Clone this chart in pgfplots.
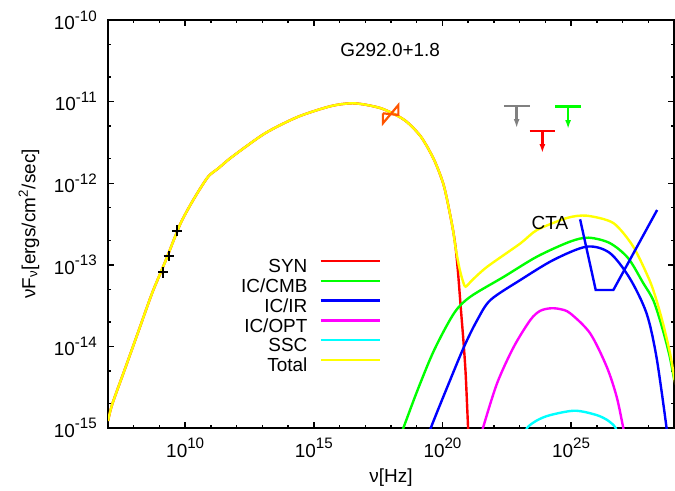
\documentclass[border=0pt]{standalone}
\usepackage{fontspec}
\setmainfont{Liberation Sans}
\usepackage{pgfplots}
\pgfplotsset{compat=1.18}
\usetikzlibrary{arrows.meta}
\definecolor{ulgray}{RGB}{128,128,128}
\definecolor{bowtie}{RGB}{255,85,0}
\definecolor{cgreen}{RGB}{0,255,0}
\definecolor{cblue}{RGB}{0,0,255}
\definecolor{cred}{RGB}{255,0,0}
\definecolor{cmag}{RGB}{255,0,255}
\definecolor{ccyan}{RGB}{0,255,255}
\definecolor{cyel}{RGB}{255,255,0}
\newcommand\fnt{\fontsize{9.5}{11}\selectfont}
\newcommand\sups[1]{\raisebox{4.2bp}{\fontsize{7.6}{8}\selectfont #1}}
\begin{document}
\fnt
\begin{tikzpicture}
\path[use as bounding box] (-54bp,-31.5bp) rectangle (283.5bp,214bp);
\begin{axis}[
  scale only axis, width=283bp, height=204bp,
  xmode=log, ymode=log,
  xmin=1e7, xmax=1e29, ymin=1e-15, ymax=1e-10,
  xtick={1e10,1e15,1e20,1e25},
  xticklabels={10\sups{10},10\sups{15},10\sups{20},10\sups{25}},
  minor xtick={1e8,1e9,1e11,1e12,1e13,1e14,1e16,1e17,1e18,1e19,1e21,1e22,1e23,1e24,1e26,1e27,1e28},
  ytick={1e-15,1e-14,1e-13,1e-12,1e-11,1e-10},
  yticklabels={10\sups{-15},10\sups{-14},10\sups{-13},10\sups{-12},10\sups{-11},10\sups{-10}},
  minor ytick={2e-15,5e-15,2e-14,5e-14,2e-13,5e-13,2e-12,5e-12,2e-11,5e-11},
  tick align=inside,
  major tick length=3bp, minor tick length=1.6bp,
  every tick/.style={black, line width=0.7bp},
  axis line style={line width=1.4bp},
  tick label style={font=\fnt},
  xticklabel style={anchor=base, yshift=-14.5bp},
  yticklabel style={anchor=east, xshift=-2.3bp},
  every axis x label/.style={at={(rel axis cs:0.5,0)}, yshift=-25bp, anchor=center, font=\fnt},
  every axis y label/.style={at={(rel axis cs:0,0.5)}, xshift=-39.5bp, rotate=90, anchor=center, font=\fnt},
  xlabel={ν[Hz]},
  ylabel={νF\textsubscript{ν}[ergs/cm\textsuperscript{2}/sec]},
  legend style={at={(0.482,0.415)}, anchor=north east, draw=none, fill=none,
    inner sep=0pt, outer sep=0pt, row sep=0.9bp, column sep=6bp, font=\fnt,
    nodes={inner sep=0pt, text height=7bp, text depth=2bp}},
  legend cell align=right,
  legend plot pos=right,
  legend image code/.code={\draw[#1] (0bp,3.3bp) -- (29.5bp,3.3bp);},
  every axis plot/.append style={line width=1.2bp},
]
% SYN
\addplot[cred, smooth, tension=0.45] coordinates {
(1.0e7,1.22e-15) (1.47e7,1.97e-15) (4.86e7,5.60e-15) (1.59e8,1.59e-14) (5.20e8,4.51e-14)
(1.71e9,1.11e-13) (3.59e9,2.01e-13) (6.70e9,3.25e-13) (1.36e10,4.97e-13) (3.33e10,8.02e-13)
(8.11e10,1.22e-12) (1.98e11,1.53e-12) (6.46e11,2.09e-12) (1.27e13,4.09e-12) (2.46e14,6.53e-12)
(4.78e15,8.83e-12) (3.84e16,9.53e-12) (4.10e17,8.28e-12) (3.30e18,5.96e-12) (1.45e19,3.72e-12)
(4.78e19,1.92e-12) (1.16e20,9.06e-13) (2.44e20,2.93e-13) (3.27e20,1.59e-13) (4.05e20,7.87e-14)
(5.11e20,3.07e-14) (6.49e20,1.20e-14) (7.96e20,4.68e-15) (9.86e20,1.04e-15) (1.11e21,4.67e-16)};
\addlegendentry{SYN}
% IC/CMB
\addplot[cgreen, smooth, tension=0.5] coordinates {
(1.82e18,6.55e-16) (3.02e18,1.0e-15) (1.08e19,2.92e-15) (4.78e19,9.04e-15) (2.84e20,2.56e-14)
(1.21e21,4.06e-14) (2.44e22,7.14e-14) (4.73e23,1.26e-13) (8.95e24,1.92e-13) (4.73e25,2.15e-13)
(3.16e26,1.85e-13) (1.64e27,1.21e-13) (6.35e27,5.98e-14) (1.55e28,3.71e-14) (3.24e28,1.83e-14)
(6.61e28,7.85e-15) (1.02e29,3.89e-15)};
\addlegendentry{IC/CMB}
% IC/IR
\addplot[cblue, smooth, tension=0.5] coordinates {
(2.63e19,7.13e-16) (3.52e19,1.0e-15) (1.56e20,3.21e-15) (6.90e20,9.91e-15) (2.26e21,2.11e-14)
(7.38e21,3.71e-14) (1.07e23,6.52e-14) (2.09e24,1.15e-13) (4.06e25,1.67e-13) (3.16e26,1.40e-13)
(1.88e27,6.89e-14) (8.51e27,2.56e-14) (2.07e28,7.48e-15) (5.06e28,1.04e-15) (5.53e28,7.13e-16)};
\addlegendentry{IC/IR}
% IC/OPT
\addplot[cmag, smooth, tension=0.5] coordinates {
(2.95e21,7.13e-16) (3.75e21,1.0e-15) (1.34e22,3.56e-15) (5.94e22,9.91e-15) (2.61e23,2.11e-14)
(6.18e23,2.72e-14) (1.55e24,2.93e-14) (3.67e24,2.87e-14) (9.18e24,2.55e-14) (5.46e25,1.45e-14)
(2.42e26,5.64e-15) (5.89e26,2.42e-15) (1.07e27,1.0e-15) (1.31e27,7.13e-16)};
\addlegendentry{IC/OPT}
% SSC
\addplot[ccyan, smooth, tension=0.5] coordinates {
(1.36e23,7.13e-16) (1.94e23,1.0e-15) (4.73e23,1.24e-15) (1.55e24,1.44e-15) (1.40e25,1.63e-15)
(9.91e25,1.44e-15) (2.88e26,1.22e-15) (5.38e26,1.0e-15) (7.08e26,7.13e-16)};
\addlegendentry{SSC}
% Total
\addplot[cyel, smooth, tension=0.45] coordinates {
(1.0e7,1.22e-15) (1.47e7,1.97e-15) (4.86e7,5.60e-15) (1.59e8,1.59e-14) (5.20e8,4.51e-14)
(1.71e9,1.11e-13) (3.59e9,2.01e-13) (6.70e9,3.25e-13) (1.36e10,4.97e-13) (3.33e10,8.02e-13)
(8.11e10,1.22e-12) (1.98e11,1.53e-12) (6.46e11,2.09e-12) (1.27e13,4.09e-12) (2.46e14,6.53e-12)
(4.78e15,8.83e-12) (3.84e16,9.53e-12) (4.10e17,8.28e-12) (3.30e18,5.96e-12) (1.45e19,3.72e-12)
(4.78e19,1.92e-12) (1.16e20,9.06e-13) (2.44e20,2.93e-13) (3.27e20,1.59e-13) (4.55e20,9.14e-14)
(6.21e20,6.32e-14) (7.96e20,5.40e-14) (1.45e21,6.52e-14) (5.51e21,9.48e-14) (1.07e23,1.83e-13)
(4.73e23,2.67e-13) (6.85e24,3.75e-13) (4.06e25,4.00e-13) (4.39e26,3.25e-13) (2.61e27,1.67e-13)
(1.11e28,6.52e-14) (2.07e28,3.71e-14) (3.87e28,1.83e-14) (7.23e28,7.85e-15) (1.23e29,2.92e-15)};
\addlegendentry{Total}
% radio data
\addplot[only marks, mark=+, mark size=2.6bp, mark options={line width=1bp, black}, forget plot]
  coordinates {(1.38e9,8.09e-14) (2.30e9,1.28e-13) (4.82e9,2.62e-13)};
% X-ray bowtie
\addplot[bowtie, line width=1.1bp, forget plot] coordinates {
(4.84e17,7.19e-12) (1.93e18,6.86e-12) (1.93e18,9.08e-12) (4.84e17,5.42e-12) (4.84e17,7.19e-12)};
% Fermi upper limits
\addplot[ulgray, line width=1.2bp, forget plot] coordinates {(2.42e22,8.83e-12) (2.42e23,8.83e-12)};
\addplot[ulgray, line width=1.2bp, -{Latex[length=4.5bp,width=3bp]}, forget plot] coordinates {(7.65e22,8.83e-12) (7.65e22,4.74e-12)};
\addplot[cred, line width=1.2bp, forget plot] coordinates {(2.42e23,4.40e-12) (2.42e24,4.40e-12)};
\addplot[cred, line width=1.2bp, -{Latex[length=4.5bp,width=3bp]}, forget plot] coordinates {(7.65e23,4.40e-12) (7.65e23,2.34e-12)};
\addplot[cgreen, line width=1.2bp, forget plot] coordinates {(2.42e24,8.67e-12) (2.42e25,8.67e-12)};
\addplot[cgreen, line width=1.2bp, -{Latex[length=4.5bp,width=3bp]}, forget plot] coordinates {(7.65e24,8.67e-12) (7.65e24,4.61e-12)};
% CTA sensitivity
\addplot[cblue, forget plot] coordinates {(2.24e25,3.61e-13) (9.06e25,4.91e-14) (4.39e26,4.91e-14) (2.21e28,4.70e-13)};
\node[font=\fnt] at (axis cs:9.3e17,4.3e-11) {G292.0+1.8};
\node[font=\fnt] at (axis cs:1.51e24,3.25e-13) {CTA};
\end{axis}
\end{tikzpicture}
\end{document}
